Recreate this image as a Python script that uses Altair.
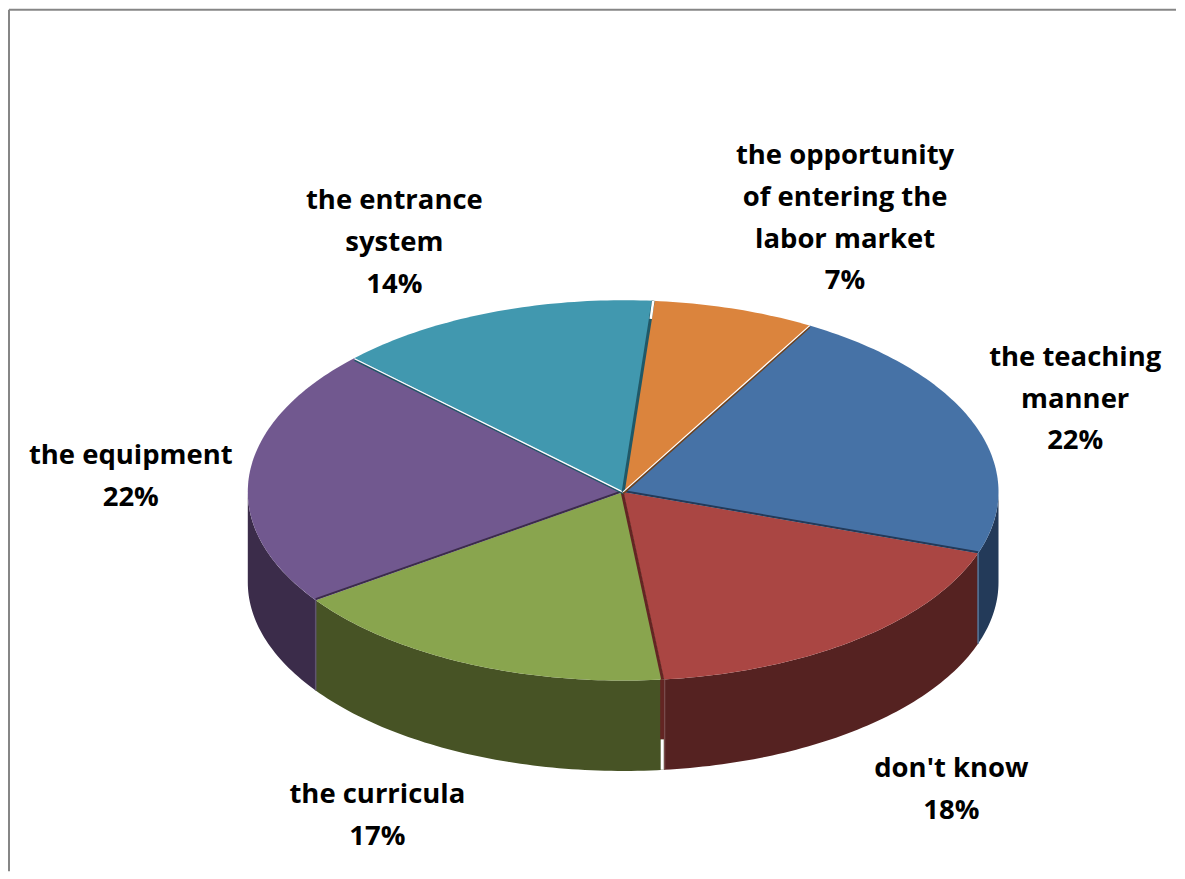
import math
import altair as alt

# ---- data ----
categories = ["the teaching manner", "don't know", "the curricula",
              "the equipment", "the entrance system",
              "the opportunity of entering the labor market"]
shares = [22, 18, 17, 22, 14, 7]

top_colors = ["#4672A6", "#AA4643", "#89A54E", "#71588F", "#4198AF", "#DB843D"]
wall_colors = ["#233A59", "#552221", "#475325", "#3B2C4A", "#205867", "#6E421E"]

label_lines = [
    ["the teaching", "manner", "22%"],
    ["don't know", "18%"],
    ["the curricula", "17%"],
    ["the equipment", "22%"],
    ["the entrance", "system", "14%"],
    ["the opportunity", "of entering the", "labor market", "7%"],
]

# ---- layout (chart pixels) ----
W, H = 1169, 863
CX, CY = 615.2, 483
A, B_BACK, B_FRONT = 376, 192, 189
DEPTH = 90.5
START = 29.8
label_anchor = [(1068, 349), (944, 761), (369, 787), (122, 447), (386, 192), (837.5, 147)]
LINE_STEP = 41.7
FONT = "Open Sans"
FONT_SIZE = 27.5


def pt(t, drop=0.0):
    r = math.radians(t)
    c = math.cos(r)
    b = B_BACK if c > 0 else B_FRONT
    return [CX + A * math.sin(r), CY - b * c + drop]


def arc(t0, t1, drop=0.0, step=1.0):
    n = max(2, int(abs(t1 - t0) / step))
    return [pt(t0 + (t1 - t0) * i / n, drop) for i in range(n + 1)]


def feature(coords, name, kind="Polygon", **props):
    geom = [coords + [coords[0]]] if kind == "Polygon" else coords
    return {"type": "Feature",
            "geometry": {"type": kind, "coordinates": geom},
            "properties": dict(name=name, **props)}


bounds = [START]
for s in shares:
    bounds.append(bounds[-1] + s * 3.6)

tops, walls = [], []
for i, name in enumerate(categories):
    t0, t1 = bounds[i], bounds[i + 1]
    tops.append(feature([[CX, CY]] + arc(t0, t1), name))
    lo, hi = max(t0, 90), min(t1, 270)
    if hi > lo:
        walls.append(feature(arc(lo, hi) + arc(hi, lo, DEPTH), name))


def seam(t, color, width, dx=0.0, dy=0.0):
    p = pt(t)
    return feature([[CX + dx, CY + dy], [p[0] + dx, p[1] + dy]], "seam",
                   kind="LineString", stroke=color, sw=width)


def wall_seam(t, color, width, d0=0.0, d1=DEPTH, dx=0.0):
    p = pt(t)
    return feature([[p[0] + dx, p[1] + d0], [p[0] + dx, p[1] + d1]], "seam",
                   kind="LineString", stroke=color, sw=width)


seams = [
    seam(bounds[1], "#233A59", 2.0, 0, -1),
    seam(bounds[2], "#632523", 3.0, -1, 0),
    seam(bounds[3], "#3B2C4A", 2.0, 0, -1),
    seam(bounds[4], "#205867", 1.5, 0.5, 2),
    seam(bounds[4], "#FFFFFF", 1.2, 0.5, 0.5),
    seam(bounds[5], "#205867", 3.0, 0, 0),
    seam(bounds[6], "#6E421E", 2.0, 0, 1.5),
    seam(bounds[6], "#FFFFFF", 1.2, 0, 0),
    wall_seam(bounds[1], "#56779C", 1.5),
    wall_seam(bounds[2], "#632523", 4.0, 0, 60, -1.5),
    wall_seam(bounds[2], "#FFFFFF", 3.0, 60, DEPTH, -1.5),
    wall_seam(bounds[2], "#7C5050", 1.2, 0, DEPTH, 1),
    wall_seam(bounds[3], "#5F5470", 1.5, 0, DEPTH, 0),
]
# white hairline at the rim where the teal and orange slices part
p_top = pt(bounds[5])
seams.append(feature([p_top, [p_top[0] - 2.5, p_top[1] + 18]], "seam",
                     kind="LineString", stroke="#FFFFFF", sw=2.5))

proj = dict(type="identity", scale=1, translate=[0, 0])
top_scale = alt.Scale(domain=categories, range=top_colors)
wall_scale = alt.Scale(domain=categories, range=wall_colors)

wall_layer = (alt.Chart(alt.Data(values=walls))
              .mark_geoshape(strokeWidth=0)
              .encode(fill=alt.Fill("properties.name:N", scale=wall_scale, legend=None))
              .project(**proj))
top_layer = (alt.Chart(alt.Data(values=tops))
             .mark_geoshape(strokeWidth=0)
             .encode(fill=alt.Fill("properties.name:N", scale=top_scale, legend=None))
             .project(**proj))

seam_layers = [
    alt.Chart(alt.Data(values=[s]))
    .mark_geoshape(filled=False, stroke=s["properties"]["stroke"],
                   strokeWidth=s["properties"]["sw"])
    .project(**proj)
    for s in seams
]

text_layers = []
for lines, (ax, ay) in zip(label_lines, label_anchor):
    for j, line in enumerate(lines):
        text_layers.append(
            alt.Chart(alt.Data(values=[{"t": line}]))
            .mark_text(x=ax, y=ay + j * LINE_STEP, font=FONT, fontSize=FONT_SIZE,
                       fontWeight="bold", color="#000000", align="center",
                       baseline="middle")
            .encode(text="t:N")
        )

frame_top = alt.Chart(alt.Data(values=[{}])).mark_rule(color="#868686", strokeWidth=2).encode(
    x=alt.value(0), x2=alt.value(W), y=alt.value(0))
frame_left = alt.Chart(alt.Data(values=[{}])).mark_rule(color="#868686", strokeWidth=2).encode(
    x=alt.value(0), y=alt.value(0), y2=alt.value(H))

chart = (alt.layer(wall_layer, top_layer, *seam_layers, *text_layers, frame_top, frame_left)
         .resolve_scale(fill="independent")
         .properties(width=W, height=H, padding=0, background="#FFFFFF")
         .configure_view(stroke=None))

chart.save("out.html", embed_options={"renderer": "svg", "actions": False})
